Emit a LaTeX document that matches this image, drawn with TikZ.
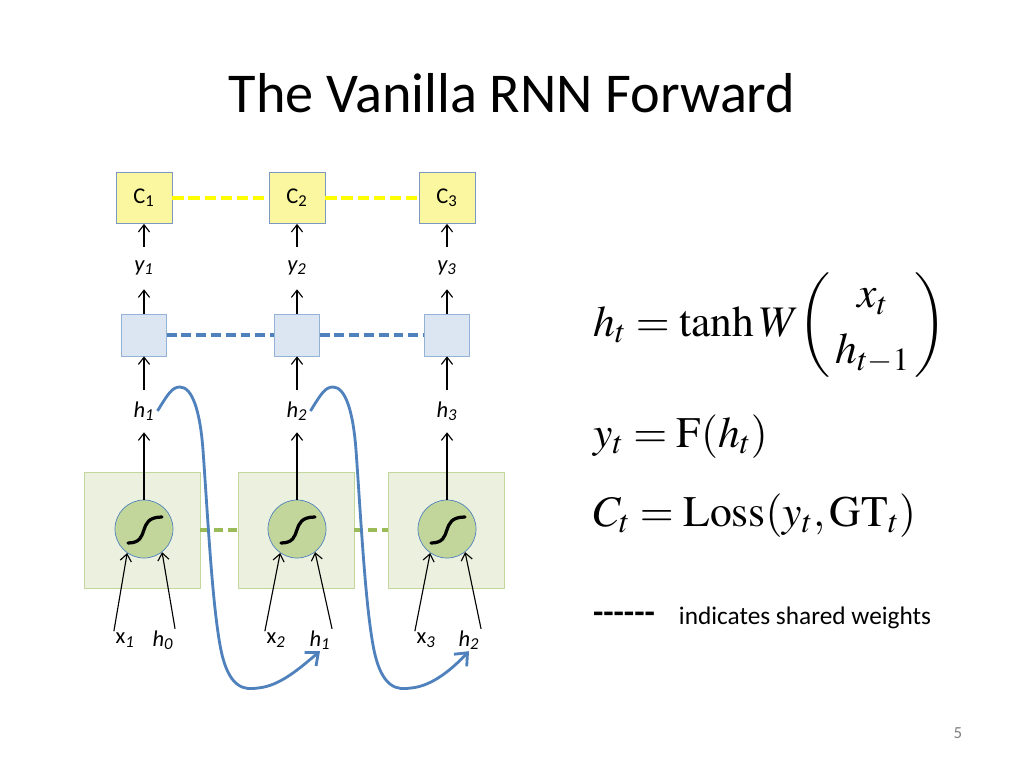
\documentclass[tikz,border=0pt]{standalone}
\usepackage{amsmath}
\usepackage{mathptmx}
\usepackage[no-math]{fontspec}
\setmainfont{Carlito}
\usetikzlibrary{arrows.meta}
\definecolor{CYellow}{RGB}{250,247,160}
\definecolor{CBorder}{RGB}{125,152,190}
\definecolor{ShareYellow}{RGB}{255,255,0}
\definecolor{BFill}{RGB}{220,230,242}
\definecolor{BBorder}{RGB}{149,179,215}
\definecolor{RNNBlue}{RGB}{79,129,189}
\definecolor{GFill}{RGB}{235,241,222}
\definecolor{GBorder}{RGB}{195,214,155}
\definecolor{GUnit}{RGB}{194,214,155}
\definecolor{GDash}{RGB}{155,187,89}

\begin{document}
\begin{tikzpicture}[x=0.025cm,y=-0.025cm,
    every node/.style={font=\fontsize{16}{19}\selectfont},
    cost/.style={draw=CBorder,fill=CYellow,minimum width=1.4cm,minimum height=1.28cm,inner sep=0pt},
    outb/.style={draw=BBorder,fill=BFill,minimum width=1.12cm,minimum height=1.05cm,inner sep=0pt},
    cell/.style={draw=GBorder,fill=GFill,minimum size=2.9cm,inner sep=0pt},
    unit/.style={circle,draw=RNNBlue,fill=GUnit,minimum size=1.45cm,inner sep=0pt,line width=0.5pt},
    lbl/.style={inner sep=0pt,minimum height=1.05cm,font=\fontsize{16}{19}\selectfont\itshape},
    inp/.style={inner sep=1pt},
    eq/.style={inner sep=0pt,font=\fontsize{31}{38}\selectfont},
    arr/.style={-{Straight Barb[length=1.8mm,width=2.8mm]},line width=0.8pt},
    share/.style={line width=2.8pt,dash pattern=on 8pt off 3.5pt},
    sig/.style={line width=2.3pt,line cap=round},
    rec/.style={RNNBlue,line width=2pt,-{Straight Barb[length=2.6mm,width=4.4mm]}}]
    \useasboundingbox[fill=white] (0,0) rectangle (1024,768);
    % title
    \node[anchor=base,font=\fontsize{40}{48}\selectfont] (title) at (512,113) {The Vanilla RNN Forward};
    % cost boxes
    \node[cost] (c1) at (144,198) {C\textsubscript{1}};
    \node[cost] (c2) at (297,198) {C\textsubscript{2}};
    \node[cost] (c3) at (447,198) {C\textsubscript{3}};
    \draw[share,ShareYellow] (c1) -- (c2); \draw[share,ShareYellow] (c2) -- (c3);
    % outputs
    \node[lbl] (y1) at (144,268) {y\textsubscript{1}};
    \node[lbl] (y2) at (297,268) {y\textsubscript{2}};
    \node[lbl] (y3) at (447,268) {y\textsubscript{3}};
    \node[outb] (o1) at (144,335) {};
    \node[outb] (o2) at (297,335) {};
    \node[outb] (o3) at (447,335) {};
    \draw[share,RNNBlue,dash pattern=on 7pt off 3.5pt] (o1) -- (o2);
    \draw[share,RNNBlue,dash pattern=on 7pt off 3.5pt] (o2) -- (o3);
    \node[lbl] (hl1) at (144,411) {h\textsubscript{1}};
    \node[lbl] (hl2) at (297,411) {h\textsubscript{2}};
    \node[lbl] (hl3) at (447,411) {h\textsubscript{3}};
    % recurrent cells
    \node[cell] (g1) at (142,530) {};
    \node[cell] (g2) at (296,530) {};
    \node[cell] (g3) at (446,530) {};
    \draw[share,GDash,dash pattern=on 6pt off 4pt] (g1) -- (g2);
    \draw[share,GDash,dash pattern=on 6pt off 4pt] (g2) -- (g3);
    \node[unit] (s1) at (144,529) {};
    \node[unit] (s2) at (297,529) {};
    \node[unit] (s3) at (447,529) {};
    \draw[sig] ([shift={(-16,14)}]s1.center) .. controls +(24,0) and +(-27,0) .. ([shift={(18,-12)}]s1.center);
    \draw[sig] ([shift={(-16,14)}]s2.center) .. controls +(24,0) and +(-27,0) .. ([shift={(18,-12)}]s2.center);
    \draw[sig] ([shift={(-16,14)}]s3.center) .. controls +(24,0) and +(-27,0) .. ([shift={(18,-12)}]s3.center);
    % inputs
    \node[inp] (x1) at (125,640) {x\textsubscript{\textit{1}}};
    \node[inp] (h0) at (163,640) {\textit{h\textsubscript{0}}};
    \node[inp] (x2) at (276,640) {x\textsubscript{\textit{2}}};
    \node[inp] (hb1) at (320,640) {\textit{h\textsubscript{1}}};
    \node[inp] (x3) at (426,640) {x\textsubscript{\textit{3}}};
    \node[inp] (hb2) at (469,640) {\textit{h\textsubscript{2}}};
    % vertical arrows
    \draw[arr] (y1) -- (c1); \draw[arr] (y2) -- (c2); \draw[arr] (y3) -- (c3);
    \draw[arr] (o1) -- (y1); \draw[arr] (o2) -- (y2); \draw[arr] (o3) -- (y3);
    \draw[arr] (hl1) -- (o1); \draw[arr] (hl2) -- (o2); \draw[arr] (hl3) -- (o3);
    \draw[arr] (s1) -- (hl1); \draw[arr] (s2) -- (hl2); \draw[arr] (s3) -- (hl3);
    \draw[arr] (x1.north west) -- (s1.235); \draw[arr] (h0.north east) -- (s1.308);
    \draw[arr] (x2.north west) -- (s2.235); \draw[arr] (hb1.north east) -- (s2.308);
    \draw[arr] (x3.north west) -- (s3.235); \draw[arr] (hb2.north east) -- (s3.308);
    % recurrence
    \draw[rec] ([xshift=2pt]hl1.east) .. controls (168,394) and (172,387) .. (180,387)
      .. controls (192,387) and (200,410) .. (203,450)
      .. controls (208,520) and (212,600) .. (220,645)
      .. controls (228,690) and (245,690) .. (258,688)
      .. controls (280,686) and (300,668) .. (hb1.south);
    \draw[rec] ([xshift=2pt]hl2.east) .. controls (321,394) and (325,387) .. (333,387)
      .. controls (345,387) and (353,410) .. (356,450)
      .. controls (361,520) and (365,600) .. (373,645)
      .. controls (381,690) and (398,690) .. (411,688)
      .. controls (433,686) and (453,668) .. (hb2.south);
    % equations
    \node[eq,anchor=base west] (eqh) at (593,336)
      {$h_t = \tanh W\!\left(\begin{array}{@{\,}c@{\,}} x_t \\[2pt] h_{t-1} \end{array}\right)$};
    \node[eq,anchor=base west] (eqy) at (593,447) {$y_t = \mathrm{F}(h_t)$};
    \node[eq,anchor=base west] (eqc) at (593,526) {$C_t = \mathrm{Loss}(y_t,\mathrm{GT}_t)$};
    % legend
    \node[font=\fontsize{24}{28}\selectfont\bfseries] (legd) at (624,618) {-{}-{}-{}-{}-{}-};
    \node[anchor=base west,font=\fontsize{18}{22}\selectfont] (legt) at (674,624) {indicates shared weights};
    \node[text=gray,font=\fontsize{12}{14}\selectfont] (page) at (958,733) {5};
\end{tikzpicture}
\end{document}
